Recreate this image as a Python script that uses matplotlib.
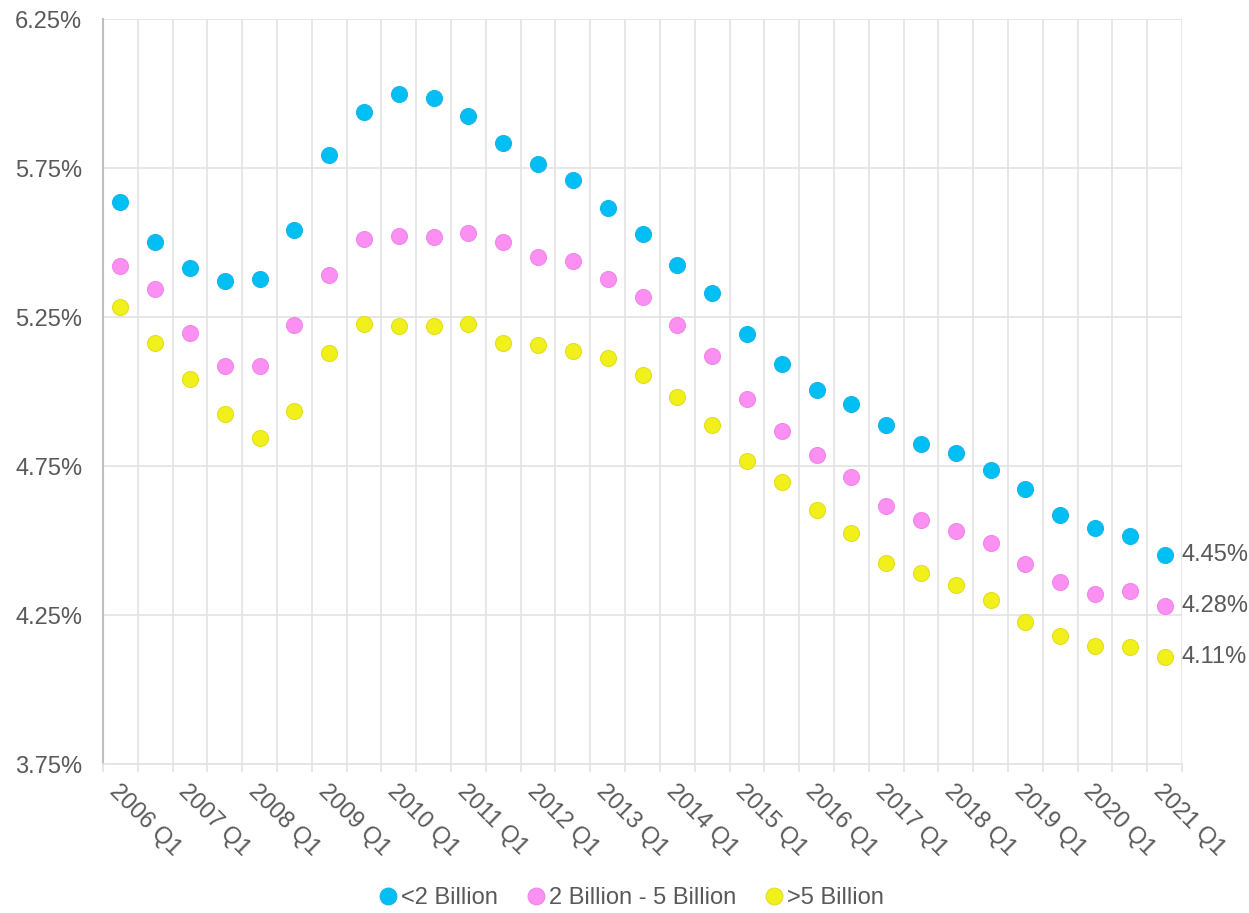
import numpy as np
import matplotlib.pyplot as plt
from matplotlib.ticker import FixedLocator

plt.rcParams['font.family'] = ['Liberation Sans', 'DejaVu Sans']

# semiannual quarters 2006 Q1 .. 2021 Q1
quarters = []
for yr in range(2006, 2022):
    quarters.append(f"{yr} Q1")
    if yr < 2021:
        quarters.append(f"{yr} Q3")

under_2b = [5.636, 5.502, 5.414, 5.371, 5.378, 5.542, 5.794, 5.938, 5.998, 5.985,
            5.924, 5.834, 5.763, 5.710, 5.616, 5.529, 5.424, 5.331, 5.193, 5.092,
            5.005, 4.958, 4.888, 4.824, 4.794, 4.737, 4.673, 4.586, 4.542, 4.515,
            4.45]
mid_2_5b = [5.421, 5.344, 5.196, 5.086, 5.086, 5.223, 5.391, 5.512, 5.522, 5.518,
            5.532, 5.502, 5.451, 5.438, 5.378, 5.317, 5.223, 5.119, 4.975, 4.867,
            4.787, 4.713, 4.616, 4.569, 4.532, 4.492, 4.421, 4.361, 4.320, 4.331,
            4.28]
over_5b = [5.284, 5.163, 5.042, 4.924, 4.844, 4.935, 5.129, 5.227, 5.220, 5.220,
           5.227, 5.163, 5.156, 5.136, 5.112, 5.055, 4.982, 4.888, 4.767, 4.696,
           4.602, 4.525, 4.424, 4.391, 4.351, 4.300, 4.227, 4.180, 4.146, 4.143,
           4.11]

series = [
    ("<2 Billion", under_2b, "#00BFF5", "#19B4E6"),
    ("2 Billion - 5 Billion", mid_2_5b, "#FC90F2", "#F088E8"),
    (">5 Billion", over_5b, "#F2F01A", "#E2DE20"),
]

text_col = "#595959"
grid_col = "#E3E3E3"
fs = 17

fig = plt.figure(figsize=(12.49, 9.13), dpi=100)
ax = fig.add_axes([103 / 1249, 1 - 764 / 913, (1182 - 103) / 1249, (764 - 19) / 913])

x = np.arange(len(quarters))
for name, vals, col, edge in series:
    ax.plot(x, vals, linestyle="none", marker="o", ms=11.5, mfc=col, mec=edge,
            mew=0.8, label=name, zorder=3)
    ax.annotate(f"{vals[-1]:.2f}%", (x[-1], vals[-1]), xytext=(12, 0),
                textcoords="offset points", va="center", ha="left",
                fontsize=fs, color=text_col, annotation_clip=False)

ax.set_xlim(-0.5, len(quarters) - 0.5)
ax.set_ylim(3.75, 6.25)

yt = np.arange(3.75, 6.26, 0.5)
ax.set_yticks(yt)
ax.set_yticklabels([f"{v:.2f}%" for v in yt])
ax.tick_params(axis="y", length=0, pad=15, labelsize=fs, labelcolor=text_col)

# boundaries carry the tick marks, labels sit on yearly category centers
ax.xaxis.set_major_locator(FixedLocator(np.arange(-0.5, len(quarters), 1.0)))
ax.set_xticklabels([])
ax.set_xticks(x[::2], minor=True)
ax.set_xticklabels(quarters[::2], minor=True, rotation=-45, ha="left", va="top",
                   rotation_mode="anchor")
ax.tick_params(axis="x", which="major", length=6, color=grid_col, width=1.2)
ax.tick_params(axis="x", which="minor", length=0, pad=12, labelsize=fs,
               labelcolor=text_col)

ax.grid(True, which="major", color=grid_col, linewidth=1.2, zorder=0)
for side in ["top", "right"]:
    ax.spines[side].set_visible(False)
ax.spines["bottom"].set_color(grid_col)
ax.spines["bottom"].set_linewidth(1.2)
ax.spines["left"].set_color("#BFBFBF")
ax.spines["left"].set_linewidth(1.5)

fig.legend(loc="center", bbox_to_anchor=(0.504, 1 - 898 / 913), ncol=3, frameon=False,
           fontsize=fs, labelcolor=text_col, handletextpad=0.0, columnspacing=1.05,
           handlelength=1.1, markerscale=1.05, borderpad=0.0)

fig.savefig("out.png", dpi=100, facecolor="white")
